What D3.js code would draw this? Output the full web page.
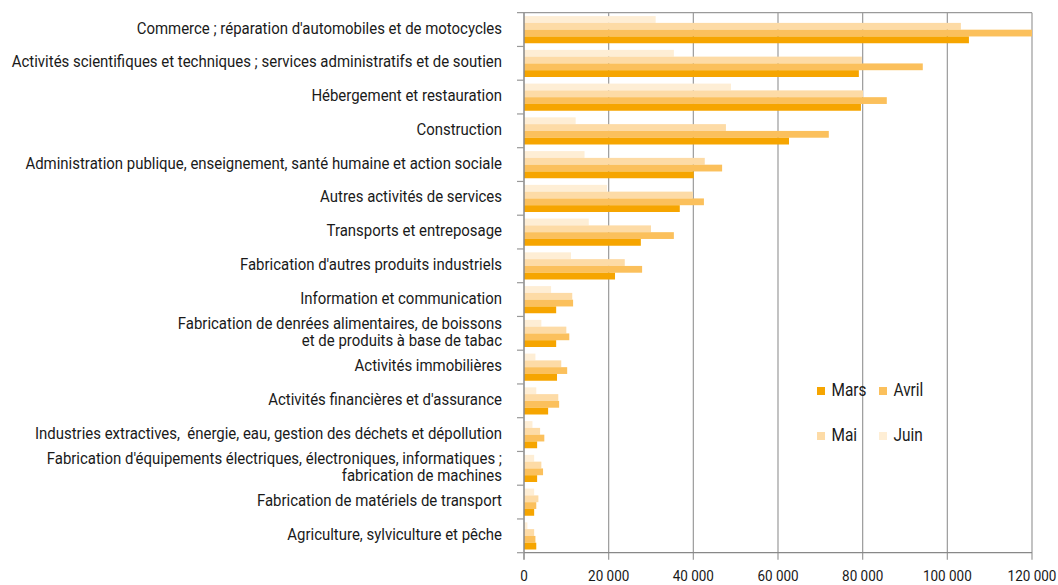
<!DOCTYPE html>
<html>
<head>
<meta charset="utf-8">
<script src="https://cdn.jsdelivr.net/npm/d3@7"></script>
<style>
  body { margin: 0; background: #fff; }
  svg text { font-family: "Roboto", "Liberation Sans", sans-serif; fill: #1a1a1a; white-space: pre; }
</style>
</head>
<body>
<div id="chart"></div>
<script>
const categories = [
    "Commerce ; réparation d'automobiles et de motocycles",
    "Activités scientifiques et techniques ; services administratifs et de soutien",
    "Hébergement et restauration",
    "Construction",
    "Administration publique, enseignement, santé humaine et action sociale",
    "Autres activités de services",
    "Transports et entreposage",
    "Fabrication d'autres produits industriels",
    "Information et communication",
    "Fabrication de denrées alimentaires, de boissons\net de produits à base de tabac",
    "Activités immobilières",
    "Activités financières et d'assurance",
    "Industries extractives,  énergie, eau, gestion des déchets et dépollution",
    "Fabrication d'équipements électriques, électroniques, informatiques ;\nfabrication de machines",
    "Fabrication de matériels de transport",
    "Agriculture, sylviculture et pêche"
];

const months = ["Juin", "Mai", "Avril", "Mars"];

const mars  = [105100, 79100, 79600, 62600, 40100, 36800, 27600, 21500, 7600, 7600, 7800, 5700, 3100, 3100, 2400, 2900];
const avril = [121000, 94200, 85700, 72000, 46800, 42500, 35400, 27900, 11600, 10700, 10200, 8300, 4800, 4500, 2900, 2700];
const mai   = [103200, 79800, 80100, 47700, 42700, 39900, 30000, 23800, 11400, 10000, 8800, 8100, 3800, 4100, 3400, 2400];
const juin  = [31100, 35400, 48900, 12200, 14300, 19600, 15300, 11100, 6400, 4100, 2700, 2900, 2000, 2400, 2400, 800];

const xTicks = [0, 20000, 40000, 60000, 80000, 100000, 120000];

const series = { "Mars": mars, "Avril": avril, "Mai": mai, "Juin": juin };
const colors = { "Mars": "#f6a500", "Avril": "#fbc05c", "Mai": "#fddba6", "Juin": "#feeed5" };
const legendOrder = [["Mars", "Avril"], ["Mai", "Juin"]];

const width = 1058, height = 585;
const margin = { top: 12.7, right: 26, bottom: 32.3, left: 524 };

// the reference uses a condensed face; squeeze Roboto horizontally
const squeeze = 0.88;

const svg = d3.select('#chart').append('svg')
    .attr('width', width)
    .attr('height', height);

const x = d3.scaleLinear()
    .domain([0, 120000])
    .range([margin.left, width - margin.right]);

const y = d3.scaleBand()
    .domain(categories)
    .range([margin.top, height - margin.bottom]);

const inner = d3.scaleBand()
    .domain(months)
    .range([3.4, y.bandwidth() - 3.2]);

const fmt = d => d3.format(",")(d).replace(/,/g, ' ');

// gridlines + bottom ticks
svg.append('g')
    .selectAll('line')
    .data(xTicks.slice(1))
    .join('line')
    .attr('x1', d => x(d)).attr('x2', d => x(d))
    .attr('y1', margin.top).attr('y2', height - margin.bottom + 7)
    .attr('stroke', '#9a9a9a')
    .attr('stroke-width', 1.2);

svg.append('clipPath').attr('id', 'clip')
    .append('rect')
    .attr('x', margin.left).attr('y', margin.top)
    .attr('width', x(120000) - margin.left)
    .attr('height', height - margin.bottom - margin.top);

// bars
const groups = svg.append('g')
    .attr('clip-path', 'url(#clip)')
    .selectAll('g')
    .data(categories)
    .join('g')
    .attr('transform', d => `translate(0, ${y(d)})`);

groups.selectAll('rect')
    .data((d, i) => months.map(m => ({ m, v: series[m][i] })))
    .join('rect')
    .attr('x', x(0))
    .attr('y', d => inner(d.m))
    .attr('width', d => x(d.v) - x(0))
    .attr('height', inner.bandwidth())
    .attr('fill', d => colors[d.m]);

// frame: top line, bottom axis, left axis
svg.append('line')
    .attr('x1', margin.left - 7).attr('x2', x(120000))
    .attr('y1', margin.top).attr('y2', margin.top)
    .attr('stroke', '#9a9a9a').attr('stroke-width', 1.2);

svg.append('line')
    .attr('x1', margin.left).attr('x2', x(120000))
    .attr('y1', height - margin.bottom).attr('y2', height - margin.bottom)
    .attr('stroke', '#888').attr('stroke-width', 1.2);

svg.append('line')
    .attr('x1', margin.left).attr('x2', margin.left)
    .attr('y1', margin.top).attr('y2', height - margin.bottom + 7)
    .attr('stroke', '#888').attr('stroke-width', 1.5);

// category separator ticks on left
svg.append('g')
    .selectAll('line')
    .data(categories.slice(1).map(c => y(c)).concat([height - margin.bottom]))
    .join('line')
    .attr('x1', margin.left - 7).attr('x2', margin.left)
    .attr('y1', d => d).attr('y2', d => d)
    .attr('stroke', '#999').attr('stroke-width', 1.2);

// x tick labels
svg.append('g')
    .selectAll('text')
    .data(xTicks)
    .join('text')
    .attr('transform', d => `translate(${x(d)}, 577) scale(0.87, 1)`)
    .attr('text-anchor', 'middle')
    .attr('dominant-baseline', 'middle')
    .style('font-size', '15.5px')
    .text(fmt);

// category labels
const labels = svg.append('g')
    .selectAll('text')
    .data(categories)
    .join('text')
    .attr('text-anchor', 'end')
    .style('font-size', '17px')
    .attr('transform', d => `translate(502, ${y(d) + y.bandwidth() / 2 - 0.5}) scale(${squeeze}, 1)`);

labels.each(function(d) {
    const lines = d.split('\n');
    const t = d3.select(this);
    lines.forEach((ln, i) => {
        t.append('tspan')
            .attr('x', 0)
            .attr('y', (i - (lines.length - 1) / 2) * 16.5)
            .attr('dominant-baseline', 'middle')
            .text(ln);
    });
});

// legend
const legend = svg.append('g');
legendOrder.forEach((row, r) => {
    row.forEach((m, c) => {
        const lx = 817 + c * 62, ly = 387 + r * 45;
        legend.append('rect')
            .attr('x', lx).attr('y', ly)
            .attr('width', 8).attr('height', 8)
            .attr('fill', colors[m]);
        legend.append('text')
            .attr('transform', `translate(${lx + 14.5}, ${ly + 4}) scale(${squeeze}, 1)`)
            .attr('dominant-baseline', 'middle')
            .style('font-size', '17.5px')
            .text(m);
    });
});
</script>
</body>
</html>
